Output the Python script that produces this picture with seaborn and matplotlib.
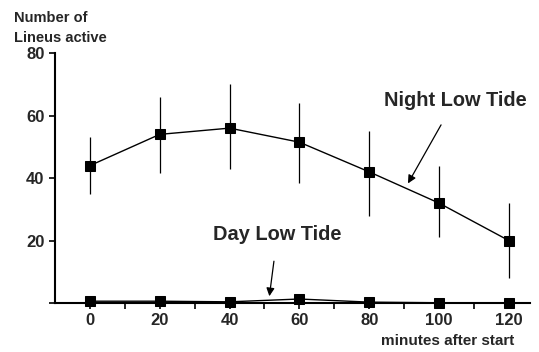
import matplotlib
matplotlib.use("Agg")
import matplotlib.pyplot as plt
import seaborn as sns
import pandas as pd

# values
minutes = [0, 20, 40, 60, 80, 100, 120]
night_mean = [44, 54, 56, 51.5, 42, 32, 20]
night_low = [35, 41.5, 43, 38.5, 28, 21, 8]
night_high = [53, 66, 70, 64, 55, 44, 32]
day_mean = [0.6, 0.6, 0.4, 1.3, 0.3, 0.1, 0.1]

night = pd.DataFrame({"minutes": minutes, "active": night_mean})
day = pd.DataFrame({"minutes": minutes, "active": day_mean})

sns.set_style("ticks")
plt.rcParams["font.family"] = ["Liberation Sans", "DejaVu Sans"]
plt.rcParams["font.weight"] = "bold"

fig = plt.figure(figsize=(5.39, 3.52), dpi=100)
ax = fig.add_axes([0.102, 0.139, 0.881, 0.71])

# error bars (vertical lines only)
yerr = [[m - lo for m, lo in zip(night_mean, night_low)],
        [hi - m for m, hi in zip(night_mean, night_high)]]
ax.errorbar(minutes, night_mean, yerr=yerr, fmt="none", ecolor="black",
            elinewidth=0.9, capsize=0)

sns.lineplot(data=night, x="minutes", y="active", ax=ax, color="black",
             lw=1, marker="s", markersize=7, markeredgecolor="black")
sns.lineplot(data=day, x="minutes", y="active", ax=ax, color="black",
             lw=1, marker="s", markersize=7, markeredgecolor="black",
             clip_on=False)

ax.set_xlim(-10, 126)
ax.set_ylim(0, 80)
ax.set_xticks([0, 20, 40, 60, 80, 100, 120])
ax.set_xticks([10, 30, 50, 70, 90, 110], minor=True)
ax.set_yticks([0, 20, 40, 60, 80])
ax.set_yticklabels(["", "20", "40", "60", "80"])
ax.tick_params(axis="both", which="major", labelsize=12, width=1.2, length=4,
               direction="out", color="black")
ax.tick_params(axis="x", which="minor", width=1.2, length=4, color="black")
for lab in ax.get_xticklabels() + ax.get_yticklabels():
    lab.set_fontweight("bold")

sns.despine(ax=ax)
ax.spines["left"].set_linewidth(1.5)
ax.spines["bottom"].set_linewidth(1.5)
ax.spines["left"].set_color("black")
ax.spines["bottom"].set_color("black")
ax.set_xlabel("")
ax.set_ylabel("")

fig.text(0.026, 0.95, "Number of", fontsize=10.5, fontweight="bold", va="center")
fig.text(0.026, 0.893, "Lineus active", fontsize=10.5, fontweight="bold", va="center")
fig.text(0.83, 0.031, "minutes after start", fontsize=11, fontweight="bold",
         ha="center", va="center")

ax.annotate("Night Low Tide", xy=(91.1, 38.3), xytext=(104.6, 65),
            ha="center", va="center", fontsize=14.4, fontweight="bold",
            arrowprops=dict(arrowstyle="-|>", color="black", lw=0.9,
                            shrinkA=10, shrinkB=0, mutation_scale=12))
ax.annotate("Day Low Tide", xy=(51.4, 2.2), xytext=(53.7, 21.9),
            ha="center", va="center", fontsize=14.4, fontweight="bold",
            arrowprops=dict(arrowstyle="-|>", color="black", lw=0.9,
                            shrinkA=10, shrinkB=0, mutation_scale=12))

fig.savefig("out.png", dpi=100)
